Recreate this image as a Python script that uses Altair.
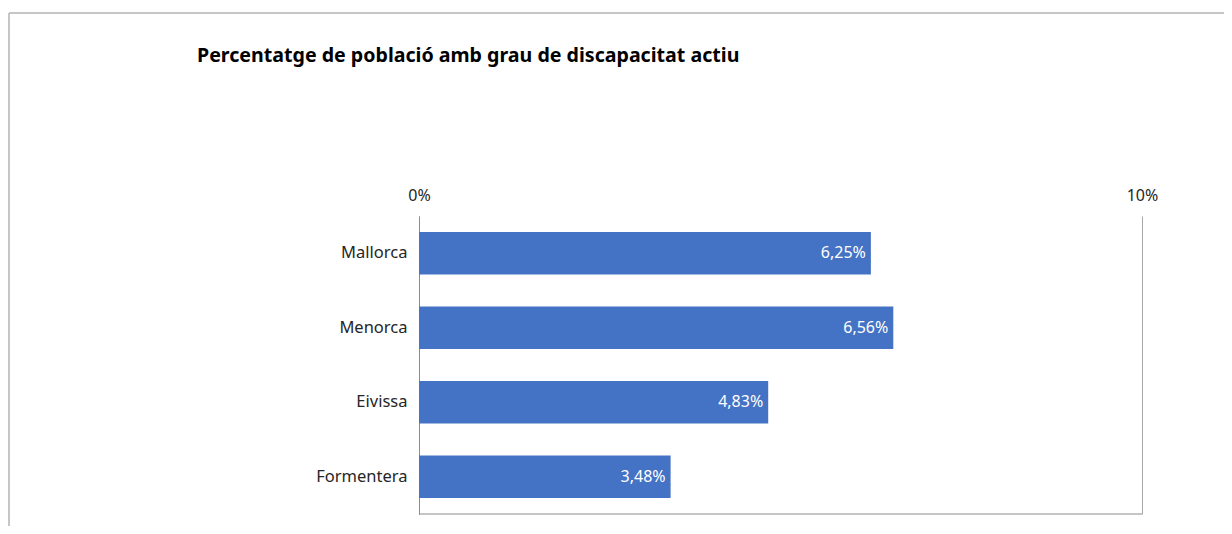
import altair as alt
import pandas as pd

islands = ["Mallorca", "Menorca", "Eivissa", "Formentera"]
values = [6.25, 6.56, 4.83, 3.48]
value_labels = ["6,25%", "6,56%", "4,83%", "3,48%"]
x_ticks = [0, 10]
title_text = "Percentatge de població amb grau de discapacitat actiu"

df = pd.DataFrame({"illa": islands, "valor": values, "etiqueta": value_labels})

W, H = 723, 298
FONT = "Noto Sans"

x_scale = alt.Scale(domain=[0, 10], nice=False, zero=True)
y_scale = alt.Scale(domain=islands, paddingInner=0.43, paddingOuter=0.215)

base = alt.Chart(df)

bars = base.mark_bar(color="#4472C4").encode(
    x=alt.X("valor:Q", scale=x_scale,
            axis=alt.Axis(orient="top", values=x_ticks, title=None, ticks=False, domain=False,
                          grid=True, gridColor="#a6a6a6", gridWidth=1, labelFlush=False,
                          labelExpr="datum.value + '%'", labelFont=FONT, labelFontSize=16,
                          labelColor="#262626", labelPadding=13)),
    y=alt.Y("illa:N", scale=y_scale, sort=islands,
            axis=alt.Axis(title=None, ticks=False, domain=True, domainColor="#8c8c8c",
                          domainWidth=1, labelFont=FONT, labelFontSize=16.5,
                          labelColor="#262626", labelPadding=12, grid=False)),
)

labels = base.mark_text(align="right", baseline="middle", dx=-5, color="white",
                        font=FONT, fontSize=16).encode(
    x=alt.X("valor:Q", scale=x_scale),
    y=alt.Y("illa:N", scale=y_scale, sort=islands),
    text="etiqueta:N",
)

bottom_line = alt.Chart(pd.DataFrame({"a": [0]})).mark_rule(color="#8c8c8c", strokeWidth=1).encode(
    x=alt.value(0), x2=alt.value(W), y=alt.value(H)
)

frame_top = alt.Chart(pd.DataFrame({"a": [0]})).mark_rule(color="#b3b3b3", strokeWidth=1.5).encode(
    x=alt.value(-410), x2=alt.value(W + 82), y=alt.value(-203)
)
frame_left = alt.Chart(pd.DataFrame({"a": [0]})).mark_rule(color="#b3b3b3", strokeWidth=1.5).encode(
    x=alt.value(-410), y=alt.value(-203), y2=alt.value(H + 12)
)

title = alt.Chart(pd.DataFrame({"t": [title_text]})).mark_text(
    align="left", baseline="alphabetic", font=FONT, fontSize=19.6, fontWeight="bold", color="#000000"
).encode(x=alt.value(-222), y=alt.value(-154), text="t:N")

chart = alt.layer(bars, labels, bottom_line, frame_top, frame_left, title).properties(
    width=W, height=H,
    background="white",
    autosize=alt.AutoSizeParams(type="none"),
    padding={"left": 411, "top": 208, "right": 82, "bottom": 12},
).configure_view(stroke="transparent", strokeWidth=0).configure_axisX(domain=False)

chart.save("out.html", embed_options={"renderer": "svg", "actions": False})
